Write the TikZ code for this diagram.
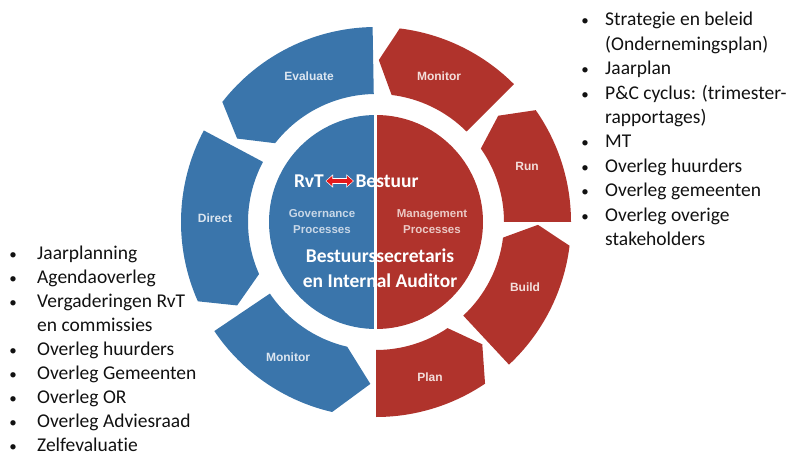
\documentclass[tikz,border=0pt]{standalone}
\usepackage{fontspec}
\setmainfont{Carlito}[Ligatures={NoCommon}]
\newfontfamily\arialf{Liberation Sans}
\usetikzlibrary{arrows.meta}
\definecolor{segblue}{HTML}{3A75AB}
\definecolor{segred}{HTML}{B0332C}
\definecolor{lblblue}{HTML}{DCE6F0}
\definecolor{lblred}{HTML}{F3DEDB}
\definecolor{govtxt}{HTML}{C8D7E7}
\definecolor{mgttxt}{HTML}{EBC9C5}
\definecolor{arrred}{HTML}{E3191B}
\definecolor{listtxt}{HTML}{111111}
\newcommand\smallbul{{\fontsize{15}{15}\selectfont •}}
\newcommand\bulL{\llap{\makebox[10pt][c]{\smallbul}\hspace{19pt}}}
\newcommand\bulR{\llap{\makebox[10pt][c]{\smallbul}\hspace{15pt}}}
\newcommand\segpath[4]{\fill[#1] (#2:195) arc[start angle=#2,end angle=#3,radius=195] -- (#4:162) -- (#3:128) arc[start angle=#3,end angle=#2,radius=128] -- cycle;}
\tikzset{
  seglbl/.style={font=\arialf\bfseries\fontsize{12}{13}\selectfont, inner sep=0},
  blbl/.style={seglbl, text=lblblue},
  rlbl/.style={seglbl, text=lblred},
  proc/.style={font=\arialf\bfseries\fontsize{11.5}{16}\selectfont, align=center, inner sep=0},
  ctext/.style={font=\bfseries\fontsize{19.5}{24.5}\selectfont, text=white, align=center, inner sep=1.5pt},
  li/.style={anchor=base west, inner sep=0, text=listtxt, font=\fontsize{19.5}{24.4}\selectfont},
}
\begin{document}
\begin{tikzpicture}[x=1pt,y=1pt]
\useasboundingbox (0,0) rectangle (795,-457);
\begin{scope}[shift={(376,-222)}]
  \segpath{segblue}{91}{142}{149}
  \segpath{segblue}{152}{204}{211}
  \segpath{segblue}{214}{257}{268}
  \segpath{segred}{-90}{-56}{-49}
  \segpath{segred}{-47}{-7}{-1}
  \segpath{segred}{0}{35}{41}
  \segpath{segred}{45}{83}{89}
  \fill[segblue] (0,107) arc[start angle=90,end angle=270,radius=107] -- cycle;
  \fill[segred] (0,-107) arc[start angle=-90,end angle=90,radius=107] -- cycle;
  \draw[white, line width=3] (-0.2,109) -- (-0.2,-109);
\end{scope}
% segment labels
\node[blbl] (evaluate) at (309,-76) {Evaluate};
\node[blbl] (direct) at (215,-218) {Direct};
\node[blbl] (monitorb) at (288,-357) {Monitor};
\node[rlbl] (monitorr) at (439,-76) {Monitor};
\node[rlbl] (run) at (527,-166) {Run};
\node[rlbl] (build) at (525,-287) {Build};
\node[rlbl] (plan) at (430,-377) {Plan};
% centre texts
\node[ctext] (rvt) at (309,-181) {RvT};
\node[ctext] (bestuur) at (387,-181) {Bestuur};
\draw[white, line width=6pt, {Triangle[length=7.5pt,width=13pt]}-{Triangle[length=7.5pt,width=13pt]}] (rvt.east) -- (bestuur.west);
\draw[arrred, line width=4pt, {Triangle[length=6pt,width=10pt]}-{Triangle[length=6pt,width=10pt]}] ([xshift=0.8pt]rvt.east) -- ([xshift=-0.8pt]bestuur.west);
\node[proc, text=govtxt] (gov) at (322,-222) {Governance\\Processes};
\node[proc, text=mgttxt] (mgt) at (432,-222) {Management\\Processes};
\node[ctext] (secr) at (380,-268) {Bestuurssecretaris\\en Internal Auditor};
% left list
\node[li] (l1) at (37,-259.5) {\bulL Jaarplanning};
\node[li] (l2) at (37,-283.5) {\bulL Agendaoverleg};
\node[li] (l3) at (37,-307.5) {\bulL Vergaderingen RvT};
\node[li] (l4) at (37,-331.5) {en commissies};
\node[li] (l5) at (37,-355.5) {\bulL Overleg huurders};
\node[li] (l6) at (37,-379.5) {\bulL Overleg Gemeenten};
\node[li] (l7) at (37,-403.5) {\bulL Overleg OR};
\node[li] (l8) at (37,-427.5) {\bulL Overleg Adviesraad};
\node[li] (l9) at (37,-451.5) {\bulL Zelfevaluatie};
% right list
\node[li] (r1) at (605,-26) {\bulR Strategie en beleid};
\node[li] (r2) at (605,-50.4) {(Ondernemingsplan)};
\node[li] (r3) at (605,-74.8) {\bulR Jaarplan};
\node[li] (r4) at (605,-99.2) {\bulR P\&C cyclus: (trimester-};
\node[li] (r5) at (605,-123.6) {rapportages)};
\node[li] (r6) at (605,-148) {\bulR MT};
\node[li] (r7) at (605,-172.4) {\bulR Overleg huurders};
\node[li] (r8) at (605,-196.8) {\bulR Overleg gemeenten};
\node[li] (r9) at (605,-221.2) {\bulR Overleg overige};
\node[li] (r10) at (605,-245.6) {stakeholders};
\end{tikzpicture}
\end{document}
